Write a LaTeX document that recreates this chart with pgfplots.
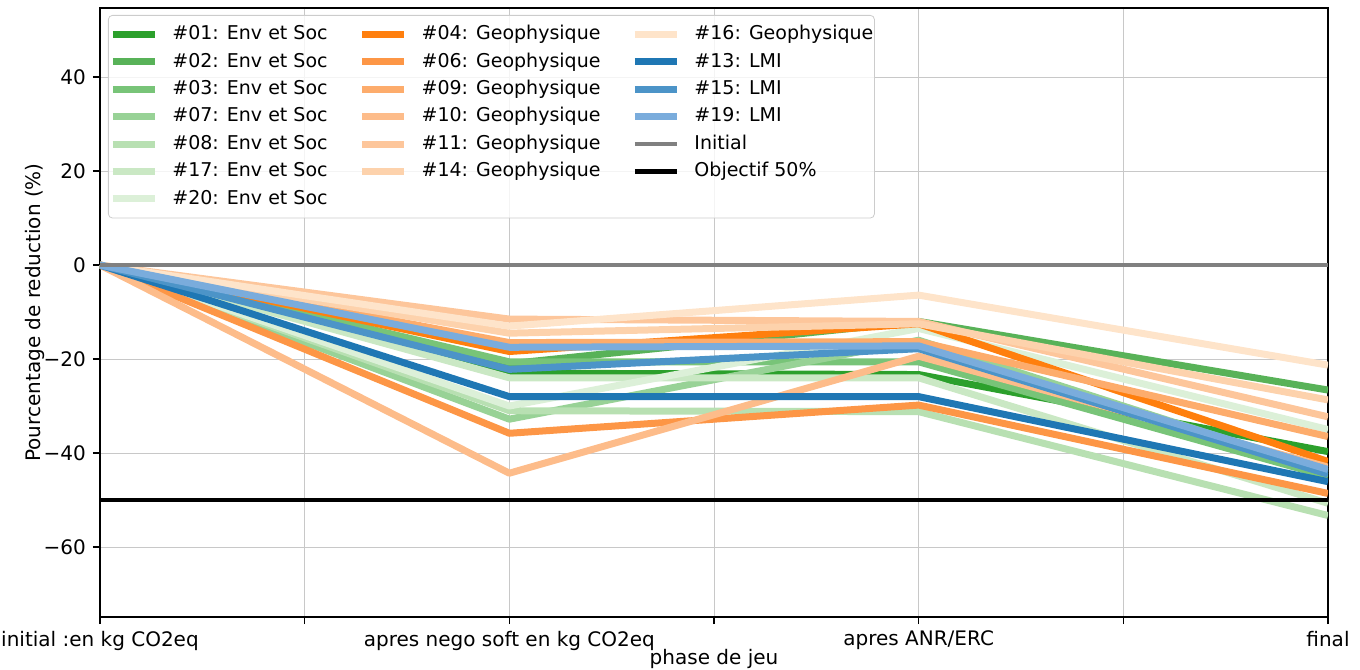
\documentclass[border=0pt]{standalone}
\usepackage{fontspec}
\setmainfont{DejaVu Sans}
\usepackage{pgfplots}
\pgfplotsset{compat=1.18}
\usetikzlibrary{calc}
\definecolor{g01}{RGB}{44,160,44}
\definecolor{g02}{RGB}{88,178,88}
\definecolor{g03}{RGB}{120,196,120}
\definecolor{g07}{RGB}{152,210,150}
\definecolor{g08}{RGB}{184,224,178}
\definecolor{g17}{RGB}{202,232,196}
\definecolor{g20}{RGB}{220,240,216}
\definecolor{o04}{RGB}{255,127,14}
\definecolor{o06}{RGB}{253,150,70}
\definecolor{o09}{RGB}{253,172,108}
\definecolor{o10}{RGB}{253,188,138}
\definecolor{o11}{RGB}{253,198,155}
\definecolor{o14}{RGB}{253,210,172}
\definecolor{o16}{RGB}{254,228,202}
\definecolor{b13}{RGB}{31,119,180}
\definecolor{b15}{RGB}{76,148,200}
\definecolor{b19}{RGB}{122,172,220}
\definecolor{gridc}{RGB}{200,200,200}
\definecolor{legc}{RGB}{204,204,204}
\begin{document}
\fontsize{10bp}{12bp}\selectfont
\begin{tikzpicture}
\begin{axis}[
  scale only axis, width=614bp, height=304.5bp,
  xmin=0, xmax=3, ymin=-74.9, ymax=54.7,
  xtick={0,0.5,1,1.5,2,2.5,3},
  xticklabels={initial :en kg CO2eq,,apres nego soft en kg CO2eq,,apres ANR/ERC,,final},
  ytick={-60,-40,-20,0,20,40},
  yticklabels={−60,−40,−20,0,20,40},
  xtick pos=bottom, ytick pos=left,
  tick align=outside, major tick length=3.5bp,
  tick style={black, line width=0.6bp},
  axis line style={black, line width=0.6bp},
  grid=major, major grid style={gridc, line width=0.5bp},
  every axis x label/.style={at={(rel axis cs:0.5,0)}, yshift=-21bp, anchor=center},
  every axis y label/.style={at={(rel axis cs:0,0.5)}, xshift=-32.5bp, rotate=90, anchor=center},
  xlabel={phase de jeu},
  ylabel={Pourcentage de reduction (\%)},
  legend columns=3,
  legend cell align=left,
  legend style={at={(rel axis cs:0,1)}, anchor=north west, xshift=4bp, yshift=-3.5bp,
    draw=legc, rounded corners=2bp, fill=white, fill opacity=0.8, text opacity=1,
    inner xsep=0.5bp, inner ysep=5bp, row sep=4.6bp,
    font=\fontsize{9.5bp}{11bp}\selectfont,
    nodes={inner sep=0pt, text height=7.2bp, text depth=1.9bp},
    /tikz/every odd column/.append style={column sep=7bp},
    /tikz/every even column/.append style={column sep=15.5bp}},
  legend image code/.code={\draw[#1, line width=3.5bp] (0bp,0bp) -- (21bp,0bp);},
  every axis plot/.append style={line width=3.5bp, line join=round},
]
% legend entries (row-wise order of a column-filled legend)
\addlegendimage{g01}\addlegendentry{\#01: Env et Soc}
\addlegendimage{o04}\addlegendentry{\#04: Geophysique}
\addlegendimage{o16}\addlegendentry{\#16: Geophysique}
\addlegendimage{g02}\addlegendentry{\#02: Env et Soc}
\addlegendimage{o06}\addlegendentry{\#06: Geophysique}
\addlegendimage{b13}\addlegendentry{\#13: LMI}
\addlegendimage{g03}\addlegendentry{\#03: Env et Soc}
\addlegendimage{o09}\addlegendentry{\#09: Geophysique}
\addlegendimage{b15}\addlegendentry{\#15: LMI}
\addlegendimage{g07}\addlegendentry{\#07: Env et Soc}
\addlegendimage{o10}\addlegendentry{\#10: Geophysique}
\addlegendimage{b19}\addlegendentry{\#19: LMI}
\addlegendimage{g08}\addlegendentry{\#08: Env et Soc}
\addlegendimage{o11}\addlegendentry{\#11: Geophysique}
\addlegendimage{legend image code/.code={\draw[gray, line width=2bp] (0bp,0bp) -- (21bp,0bp);}}\addlegendentry{Initial}
\addlegendimage{g17}\addlegendentry{\#17: Env et Soc}
\addlegendimage{o14}\addlegendentry{\#14: Geophysique}
\addlegendimage{legend image code/.code={\draw[black, line width=2bp] (0bp,0bp) -- (21bp,0bp);}}\addlegendentry{Objectif 50\%}
\addlegendimage{g20}\addlegendentry{\#20: Env et Soc}
% greens
\addplot[g01, forget plot] coordinates {(0,0) (1,-23.0) (2,-23.3) (3,-39.7)};
\addplot[g02, forget plot] coordinates {(0,0) (1,-21.0) (2,-12.0) (3,-26.6)};
\addplot[g03, forget plot] coordinates {(0,0) (1,-20.6) (2,-20.6) (3,-45.0)};
\addplot[g07, forget plot] coordinates {(0,0) (1,-32.8) (2,-16.0) (3,-44.0)};
\addplot[g08, forget plot] coordinates {(0,0) (1,-31.0) (2,-31.2) (3,-53.3)};
\addplot[g17, forget plot] coordinates {(0,0) (1,-24.0) (2,-24.0) (3,-50.7)};
\addplot[g20, forget plot] coordinates {(0,0) (1,-30.0) (2,-13.5) (3,-35.0)};
% oranges
\addplot[o04, forget plot] coordinates {(0,0) (1,-18.4) (2,-12.5) (3,-41.8)};
\addplot[o06, forget plot] coordinates {(0,0) (1,-35.8) (2,-29.8) (3,-48.6)};
\addplot[o09, forget plot] coordinates {(0,0) (1,-16.5) (2,-16.3) (3,-36.5)};
\addplot[o10, forget plot] coordinates {(0,0) (1,-44.3) (2,-19.4) (3,-43.0)};
\addplot[o11, forget plot] coordinates {(0,0) (1,-11.5) (2,-12.0) (3,-32.3)};
\addplot[o14, forget plot] coordinates {(0,0) (1,-14.5) (2,-12.5) (3,-28.7)};
\addplot[o16, forget plot] coordinates {(0,0) (1,-13.0) (2,-6.4) (3,-21.3)};
% blues
\addplot[b13, forget plot] coordinates {(0,0) (1,-28.0) (2,-28.0) (3,-46.1)};
\addplot[b15, forget plot] coordinates {(0,0) (1,-22.2) (2,-17.8) (3,-44.5)};
\addplot[b19, forget plot] coordinates {(0,0) (1,-17.5) (2,-17.2) (3,-43.5)};
% references
\addplot[gray, line width=2bp, forget plot] coordinates {(0,0) (3,0)};
\addplot[black, line width=2bp, forget plot] coordinates {(0,-50) (3,-50)};
\coordinate (bl) at (rel axis cs:0,0);
\coordinate (tr) at (rel axis cs:1,1);
\end{axis}
\pgfresetboundingbox
\path ($(bl)+(-50bp,-26bp)$) rectangle ($(tr)+(16bp,4bp)$);
\end{tikzpicture}
\end{document}
